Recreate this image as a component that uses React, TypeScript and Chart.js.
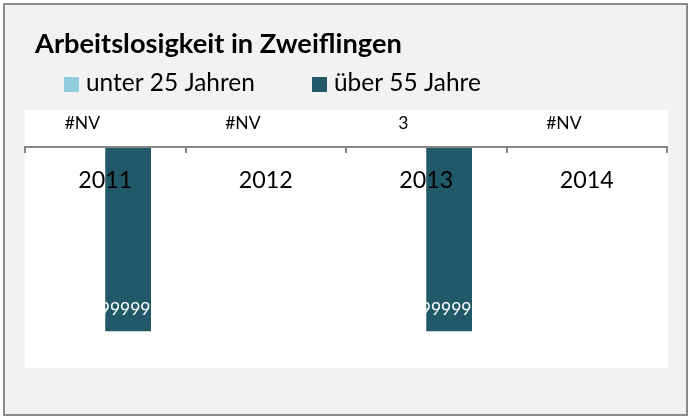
import React, { useEffect, useRef } from 'react';
import { Chart, registerables } from 'chart.js';

Chart.register(...registerables);

// ---- data ----
const TITLE = 'Arbeitslosigkeit in Zweiflingen';
const YEARS = ['2011', '2012', '2013', '2014'];
const SERIES_NAMES = ['unter 25 Jahren', 'über 55 Jahre'];
const UNDER_25: (number | null)[] = [null, null, 3, null];
const OVER_55: (number | null)[] = [99999, null, 99999, null];
const NA_LABEL = '#NV';
const Y_MIN = -20000;
const Y_MAX = 120000;

// ---- style ----
const W = 688;
const H = 416;
const FONT = 'Lato, "Open Sans", sans-serif';
const COLORS = ['#93CDDD', '#215968'];
const LABEL_COLORS = ['#000000', '#ffffff'];
const AXIS = '#868686';
const LEGEND_X = [64, 312];

function fitSize(text: string, weight: string, target: number): number {
  const c = document.createElement('canvas').getContext('2d')!;
  c.font = `${weight} 100px ${FONT}`;
  return (100 * target) / c.measureText(text).width;
}

function makeDecor(titleSize: number, legendSize: number, labelSize: number) {
  return {
    id: 'decor',
    beforeDraw(chart: any) {
      const { ctx, chartArea: a } = chart;
      ctx.save();
      ctx.fillStyle = '#ffffff';
      ctx.fillRect(0, 0, W, H);
      ctx.fillStyle = '#f2f2f2';
      ctx.fillRect(4, 4, W - 5, H - 5);
      ctx.strokeStyle = '#8c8c8c';
      ctx.lineWidth = 2;
      ctx.strokeRect(4, 4, W - 5, H - 5);
      ctx.fillStyle = '#ffffff';
      ctx.fillRect(a.left, a.top, a.right - a.left + 1, a.bottom - a.top);

      // title
      ctx.fillStyle = '#000000';
      ctx.textBaseline = 'alphabetic';
      ctx.textAlign = 'left';
      ctx.font = `bold ${titleSize}px ${FONT}`;
      ctx.fillText(TITLE, 35, 53);

      // legend
      ctx.font = `normal ${legendSize}px ${FONT}`;
      chart.data.datasets.forEach((ds: any, i: number) => {
        const x = LEGEND_X[i];
        ctx.fillStyle = ds.backgroundColor;
        ctx.fillRect(x, 77, 15, 15);
        ctx.fillStyle = '#000000';
        ctx.fillText(ds.label, x + 22, 91);
      });
      ctx.restore();
    },
    afterDatasetsDraw(chart: any) {
      const { ctx } = chart;
      const yScale = chart.scales.y;
      const zero = yScale.getPixelForValue(0);
      ctx.save();
      ctx.font = `normal ${labelSize}px ${FONT}`;
      ctx.textAlign = 'center';
      ctx.textBaseline = 'alphabetic';
      chart.data.datasets.forEach((ds: any, di: number) => {
        const meta = chart.getDatasetMeta(di);
        ds.data.forEach((v: number | null, i: number) => {
          const el = meta.data[i];
          if (!el) return;
          ctx.fillStyle = LABEL_COLORS[di];
          if (di === 0) {
            const txt = v == null ? NA_LABEL : String(v);
            ctx.fillText(txt, el.x, zero - 18);
          } else if (v != null) {
            ctx.fillText(String(v), el.x - 3, el.y - 16);
          }
        });
      });
      ctx.restore();
    },
  };
}

export default function App() {
  const ref = useRef<HTMLCanvasElement>(null);

  useEffect(() => {
    const canvas = ref.current;
    if (!canvas) return;
    const titleSize = fitSize(TITLE, 'bold', 367);
    const legendSize = fitSize(SERIES_NAMES[0], 'normal', 169);
    const tickSize = fitSize(YEARS[0], 'normal', 54);
    const labelSize = 17.5;

    const chart = new Chart(canvas, {
      type: 'bar',
      data: {
        labels: YEARS,
        datasets: [
          { label: SERIES_NAMES[0], data: UNDER_25 as any, backgroundColor: COLORS[0] },
          { label: SERIES_NAMES[1], data: OVER_55 as any, backgroundColor: COLORS[1] },
        ],
      },
      options: {
        animation: false,
        responsive: false,
        layout: { padding: { left: 25, top: 110, right: 21, bottom: 48 } },
        datasets: { bar: { categoryPercentage: 0.57, barPercentage: 1 } },
        plugins: {
          legend: { display: false },
          title: { display: false },
          tooltip: { enabled: false },
        },
        scales: {
          x: {
            position: { y: 0 } as any,
            grid: {
              offset: true,
              drawOnChartArea: false,
              drawTicks: true,
              tickLength: 5,
              color: AXIS,
              lineWidth: 2,
              z: 1,
            } as any,
            border: { display: true, color: AXIS, width: 2, z: 2 } as any,
            ticks: {
              color: '#000000',
              font: { family: FONT, size: tickSize },
              padding: 15,
              maxRotation: 0,
              autoSkip: false,
              z: 3,
            } as any,
          },
          y: { display: false, reverse: true, min: Y_MIN, max: Y_MAX },
        },
      },
      plugins: [makeDecor(titleSize, legendSize, labelSize)],
    });
    return () => chart.destroy();
  }, []);

  return (
    <div style={{ position: 'absolute', left: 0, top: 0, width: W, height: H }}>
      <canvas ref={ref} width={W} height={H} style={{ display: 'block', width: W, height: H }} />
    </div>
  );
}
